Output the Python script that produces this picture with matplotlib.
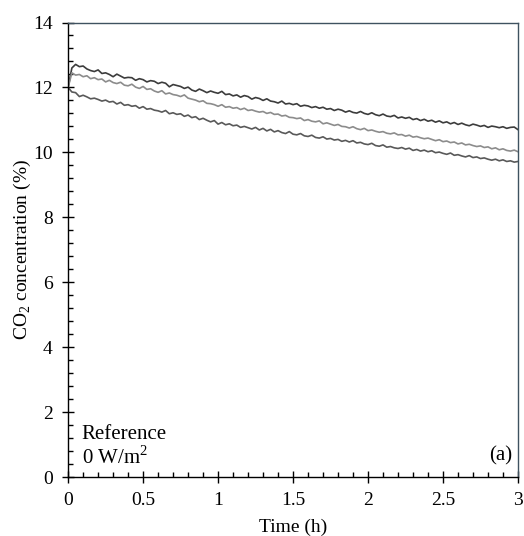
import numpy as np
import matplotlib
matplotlib.use("Agg")
import matplotlib.pyplot as plt
from matplotlib.ticker import MultipleLocator

# sample times (h), 0.025 h apart
time_h = np.linspace(0, 3, 121)

upper = [12.00, 12.60, 12.71, 12.64, 12.66, 12.57, 12.52, 12.49, 12.54, 12.43,
         12.45, 12.40, 12.33, 12.41, 12.35, 12.29, 12.31, 12.30, 12.22, 12.27,
         12.24, 12.17, 12.21, 12.19, 12.12, 12.16, 12.13, 12.02, 12.09, 12.06,
         12.03, 11.97, 12.01, 11.92, 11.88, 11.95, 11.90, 11.84, 11.89, 11.85,
         11.82, 11.88, 11.78, 11.80, 11.74, 11.77, 11.70, 11.75, 11.72, 11.64,
         11.69, 11.66, 11.60, 11.65, 11.58, 11.56, 11.52, 11.58, 11.49, 11.51,
         11.47, 11.50, 11.42, 11.45, 11.43, 11.38, 11.41, 11.36, 11.39, 11.33,
         11.35, 11.29, 11.33, 11.30, 11.24, 11.28, 11.23, 11.21, 11.26, 11.20,
         11.17, 11.22, 11.16, 11.13, 11.18, 11.12, 11.10, 11.14, 11.06, 11.09,
         11.05, 11.08, 11.01, 11.04, 10.98, 11.02, 10.96, 10.99, 10.93, 10.97,
         10.91, 10.94, 10.88, 10.92, 10.86, 10.90, 10.85, 10.82, 10.87, 10.84,
         10.80, 10.83, 10.77, 10.81, 10.79, 10.76, 10.79, 10.74, 10.77, 10.78,
         10.70]

middle = [12.00, 12.45, 12.38, 12.40, 12.33, 12.36, 12.27, 12.30, 12.24, 12.26,
          12.17, 12.22, 12.15, 12.12, 12.16, 12.07, 12.05, 12.10, 12.01, 11.97,
          12.03, 11.94, 11.96, 11.89, 11.85, 11.90, 11.80, 11.83, 11.78, 11.76,
          11.72, 11.77, 11.67, 11.64, 11.61, 11.56, 11.59, 11.51, 11.50, 11.47,
          11.42, 11.47, 11.39, 11.41, 11.36, 11.38, 11.32, 11.36, 11.29, 11.31,
          11.27, 11.24, 11.26, 11.20, 11.23, 11.17, 11.18, 11.12, 11.14, 11.08,
          11.07, 11.04, 11.06, 10.98, 11.01, 10.96, 10.94, 10.97, 10.88, 10.91,
          10.87, 10.83, 10.86, 10.80, 10.79, 10.75, 10.79, 10.73, 10.70, 10.74,
          10.67, 10.69, 10.65, 10.62, 10.64, 10.59, 10.57, 10.60, 10.54, 10.55,
          10.50, 10.53, 10.47, 10.49, 10.45, 10.42, 10.44, 10.40, 10.36, 10.39,
          10.33, 10.35, 10.30, 10.32, 10.26, 10.29, 10.23, 10.25, 10.21, 10.18,
          10.20, 10.15, 10.17, 10.11, 10.14, 10.08, 10.11, 10.06, 10.04, 10.07,
          10.02]

lower = [12.00, 11.86, 11.84, 11.72, 11.76, 11.71, 11.65, 11.67, 11.63, 11.58,
         11.61, 11.55, 11.57, 11.49, 11.54, 11.45, 11.47, 11.42, 11.44, 11.36,
         11.41, 11.33, 11.35, 11.30, 11.28, 11.24, 11.29, 11.19, 11.22, 11.17,
         11.19, 11.11, 11.15, 11.07, 11.10, 11.01, 11.05, 10.99, 10.94, 10.98,
         10.87, 10.92, 10.85, 10.88, 10.82, 10.84, 10.77, 10.80, 10.76, 10.72,
         10.77, 10.69, 10.74, 10.66, 10.71, 10.63, 10.67, 10.61, 10.58, 10.64,
         10.56, 10.54, 10.58, 10.51, 10.49, 10.53, 10.46, 10.44, 10.48, 10.41,
         10.43, 10.38, 10.40, 10.34, 10.37, 10.32, 10.36, 10.29, 10.31, 10.26,
         10.24, 10.28, 10.21, 10.19, 10.23, 10.16, 10.18, 10.14, 10.12, 10.15,
         10.10, 10.13, 10.06, 10.09, 10.04, 10.07, 10.02, 10.05, 9.99, 10.01,
         9.97, 9.94, 9.98, 9.91, 9.93, 9.89, 9.86, 9.90, 9.84, 9.86,
         9.81, 9.83, 9.79, 9.76, 9.79, 9.74, 9.77, 9.72, 9.74, 9.70,
         9.72]

x_ticks = [0, 0.5, 1, 1.5, 2, 2.5, 3]
x_ticklabels = ['0', '0.5', '1', '1.5', '2', '2.5', '3']

plt.rcParams['font.family'] = ['Liberation Serif', 'DejaVu Serif']
plt.rcParams['mathtext.fontset'] = 'custom'
plt.rcParams['mathtext.rm'] = 'Liberation Serif'

fig = plt.figure(figsize=(5.24, 5.36), dpi=100)
ax = fig.add_axes([0.130, 0.110, 0.8585, 0.848])

ax.plot(time_h, upper, color='#3c3c3c', lw=1.2)
ax.plot(time_h, middle, color='#8c8c8c', lw=1.2)
ax.plot(time_h, lower, color='#595959', lw=1.2)

ax.set_xlim(0, 3)
ax.set_ylim(0, 14)
ax.xaxis.set_minor_locator(MultipleLocator(0.1))
ax.yaxis.set_major_locator(MultipleLocator(2))
ax.yaxis.set_minor_locator(MultipleLocator(0.4))
ax.set_xticks(x_ticks)
ax.set_xticklabels(x_ticklabels)

ax.tick_params(which='major', direction='inout', length=8, width=1, labelsize=14, pad=7)
ax.tick_params(which='minor', direction='in', length=3.5, width=1)
ax.tick_params(top=False, right=False, which='both')

for s in ['top', 'right']:
    ax.spines[s].set_color('#3f5260')
    ax.spines[s].set_linewidth(1)
for s in ['left', 'bottom']:
    ax.spines[s].set_color('black')
    ax.spines[s].set_linewidth(1)

ax.set_xlabel('Time (h)', fontsize=14, labelpad=7)
ax.set_ylabel('CO$_2$ concentration (%)', fontsize=14, labelpad=0)

ax.text(0.03, 0.083, 'Reference', transform=ax.transAxes, fontsize=15, va='baseline')
ax.text(0.03, 0.029, '0 W/m$^2$', transform=ax.transAxes, fontsize=15, va='baseline')
ax.text(0.987, 0.036, '(a)', transform=ax.transAxes, fontsize=15, ha='right', va='baseline')

fig.savefig('out.png', dpi=100)
